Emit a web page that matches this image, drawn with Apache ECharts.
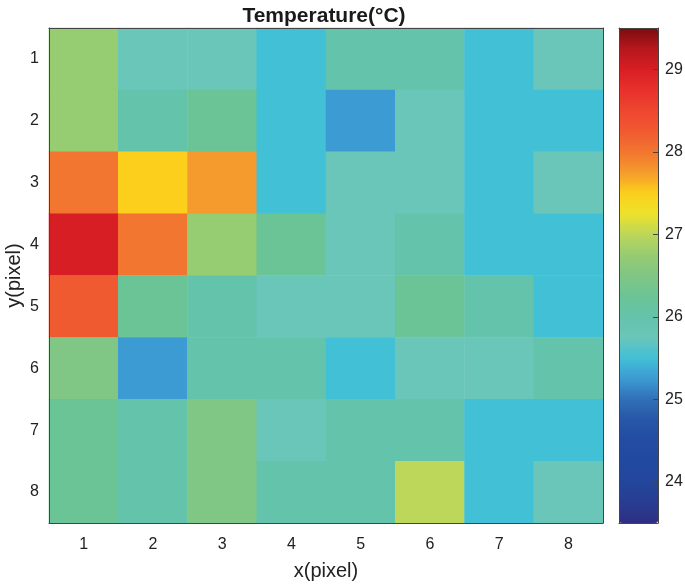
<!DOCTYPE html>
<html>
<head>
<meta charset="utf-8">
<script src="https://cdn.jsdelivr.net/npm/echarts@6/dist/echarts.min.js"></script>
<style>
  html, body { margin: 0; padding: 0; background: #fff; }
  #main { width: 685px; height: 584px; }
</style>
</head>
<body>
<div id="main"></div>
<script>
// categories on both axes
const xLabels = ['1', '2', '3', '4', '5', '6', '7', '8']
const yLabels = ['1', '2', '3', '4', '5', '6', '7', '8']
// temperature per row (y = 1..8), columns x = 1..8
const row1 = [26.75, 25.75, 25.75, 25.5, 26.0, 26.0, 25.5, 25.75]
const row2 = [26.75, 26.0, 26.25, 25.5, 25.25, 25.75, 25.5, 25.5]
const row3 = [28.0, 27.5, 27.75, 25.5, 25.75, 25.75, 25.5, 25.75]
const row4 = [29.0, 28.0, 26.75, 26.25, 25.75, 26.0, 25.5, 25.5]
const row5 = [28.25, 26.25, 26.0, 25.75, 25.75, 26.25, 26.0, 25.5]
const row6 = [26.5, 25.25, 26.0, 26.0, 25.5, 25.75, 25.75, 26.0]
const row7 = [26.25, 26.0, 26.5, 25.75, 26.0, 26.0, 25.5, 25.5]
const row8 = [26.25, 26.0, 26.5, 26.0, 26.0, 27.0, 25.5, 25.75]
// colour bar
const cbMin = 23.5
const cbMax = 29.5
const cbTicks = [24, 25, 26, 27, 28, 29]
// colormap, evenly spaced from cbMin to cbMax (step 0.25)
const cmap = [
  '#2e2f82', '#283d92', '#22479c', '#2249a0', '#234ca2', '#2756a8', '#3070b8',
  '#3c9bd2', '#42c0d6', '#6bc6ba', '#64c3ab', '#6bc495', '#80c684', '#96cc72',
  '#bcd759', '#eee22a', '#fbcf1c', '#f59a2c', '#f27530', '#f05a30', '#ee4630',
  '#e8302c', '#d71e24', '#b5171d', '#7a0c0f'
]

const rows = [row1, row2, row3, row4, row5, row6, row7, row8]
const cells = []
rows.forEach((row, yi) => {
  row.forEach((v, xi) => {
    cells.push([xi, yi, v])
  })
})

const font = 'Liberation Sans, Arial, Helvetica, sans-serif'
const plot = { left: 49, top: 28, width: 554, height: 495 }
const bar = { left: 619, top: 28, width: 39, height: 495 }
const axisColor = '#444'

const chart = echarts.init(document.getElementById('main'))
chart.setOption({
  backgroundColor: '#fff',
  animation: false,
  textStyle: { fontFamily: font },
  title: {
    text: 'Temperature(°C)',
    left: 319,
    textAlign: 'center',
    top: 1,
    textStyle: { fontFamily: font, fontSize: 21, fontWeight: 'bold', color: '#1a1a1a' }
  },
  grid: [
    { left: plot.left, top: plot.top, width: plot.width, height: plot.height, outerBoundsMode: 'none', containLabel: false },
    { left: bar.left, top: bar.top, width: bar.width, height: bar.height, outerBoundsMode: 'none', containLabel: false }
  ],
  xAxis: [
    {
      type: 'category', data: xLabels, position: 'bottom', gridIndex: 0, z: 5,
      name: 'x(pixel)', nameLocation: 'middle', nameGap: 38, nameMoveOverlap: false,
      nameTextStyle: { fontSize: 20, color: '#222' },
      axisLine: { lineStyle: { color: axisColor, width: 1 } },
      axisTick: { inside: true, alignWithLabel: true, length: 5, lineStyle: { color: axisColor } },
      axisLabel: { fontSize: 16, color: '#222', margin: 14 },
      splitLine: { show: false }
    },
    {
      type: 'category', data: xLabels, position: 'top', gridIndex: 0, z: 5,
      axisLine: { lineStyle: { color: axisColor, width: 1 } },
      axisTick: { inside: true, alignWithLabel: true, length: 5, lineStyle: { color: axisColor } },
      axisLabel: { show: false }
    },
    {
      type: 'value', gridIndex: 1, position: 'bottom', z: 5, min: 0, max: 1,
      axisLine: { show: true, onZero: false, lineStyle: { color: axisColor } }, axisTick: { show: false },
      axisLabel: { show: false }, splitLine: { show: false }
    },
    {
      type: 'value', gridIndex: 1, position: 'top', z: 5, min: 0, max: 1,
      axisLine: { show: true, onZero: false, lineStyle: { color: axisColor } }, axisTick: { show: false },
      axisLabel: { show: false }, splitLine: { show: false }
    }
  ],
  yAxis: [
    {
      type: 'category', data: yLabels, inverse: true, position: 'left', gridIndex: 0, z: 5,
      name: 'y(pixel)', nameLocation: 'middle', nameGap: 25, nameRotate: 90, nameMoveOverlap: false,
      nameTextStyle: { fontSize: 20, color: '#222' },
      axisLine: { lineStyle: { color: axisColor, width: 1 } },
      axisTick: { inside: true, alignWithLabel: true, length: 5, lineStyle: { color: axisColor } },
      axisLabel: { fontSize: 16, color: '#222', margin: 10 },
      splitLine: { show: false }
    },
    {
      type: 'category', data: yLabels, inverse: true, position: 'right', gridIndex: 0, z: 5,
      axisLine: { lineStyle: { color: axisColor, width: 1 } },
      axisTick: { inside: true, alignWithLabel: true, length: 5, lineStyle: { color: axisColor } },
      axisLabel: { show: false }
    },
    {
      type: 'value', gridIndex: 1, position: 'right', min: cbMin, max: cbMax, z: 5,
      axisLine: { show: true, onZero: false, lineStyle: { color: axisColor } },
      axisTick: { show: true, inside: true, length: 5, lineStyle: { color: axisColor },
        customValues: cbTicks },
      axisLabel: { fontSize: 16, color: '#222', margin: 7, customValues: cbTicks },
      splitLine: { show: false }
    },
    {
      type: 'value', gridIndex: 1, position: 'left', min: cbMin, max: cbMax, z: 5,
      axisLine: { show: true, onZero: false, lineStyle: { color: axisColor } },
      axisTick: { show: false }, axisLabel: { show: false }, splitLine: { show: false }
    }
  ],
  visualMap: {
    type: 'continuous',
    min: cbMin,
    max: cbMax,
    seriesIndex: 0,
    calculable: false,
    realtime: false,
    orient: 'vertical',
    left: bar.left,
    top: bar.top,
    itemWidth: bar.width,
    itemHeight: bar.height,
    padding: 0,
    text: null,
    showLabel: false,
    inRange: { color: cmap }
  },
  series: [
    {
      type: 'heatmap',
      xAxisIndex: 0,
      yAxisIndex: 0,
      data: cells,
      itemStyle: { borderWidth: 0 },
      emphasis: { disabled: true }
    }
  ]
})
</script>
</body>
</html>
